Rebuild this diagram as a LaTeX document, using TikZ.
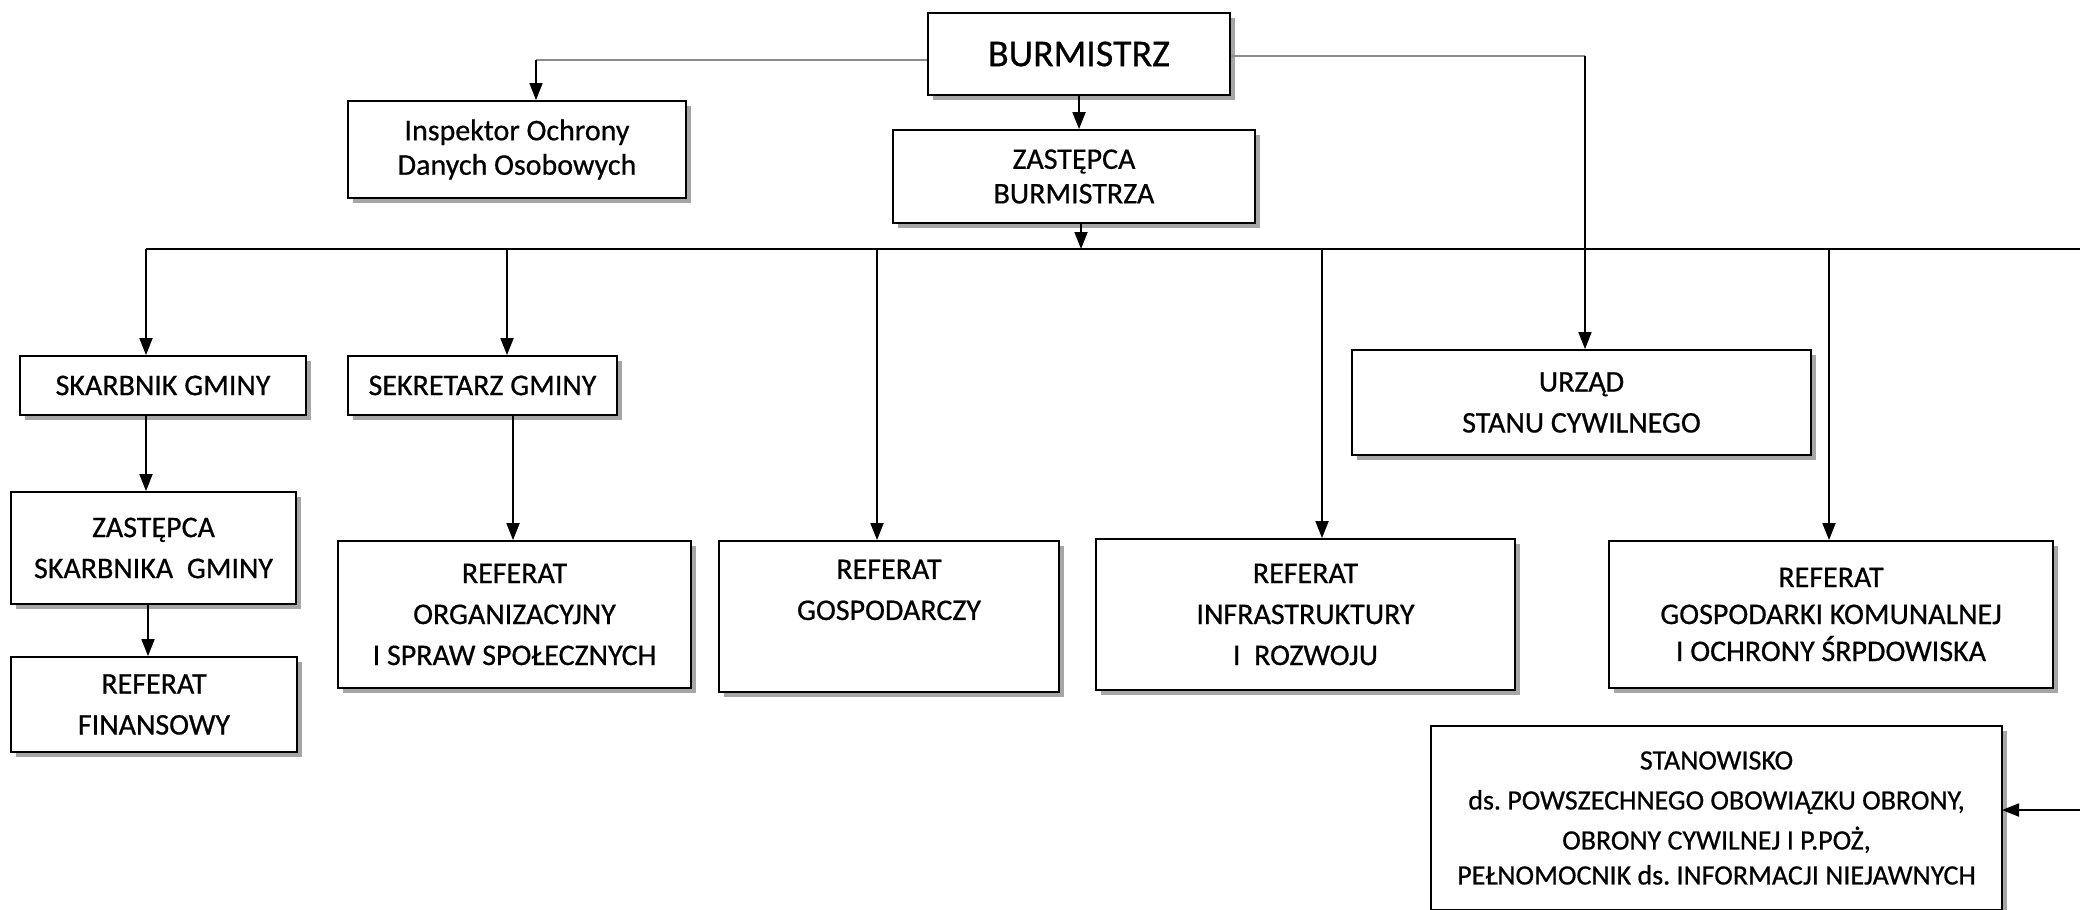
\documentclass[tikz,border=0pt]{standalone}
\usepackage{fontspec}
\setmainfont{Carlito}[FakeBold=0.6]
\usetikzlibrary{arrows.meta,shadows}
\begin{document}
\frenchspacing
\begin{tikzpicture}[x=1pt,y=-1pt,
 box/.style={draw=black, line width=1.8pt, fill=white, inner sep=0pt, align=center,
   font=\fontsize{30}{41}\selectfont,
   drop shadow={shadow xshift=5pt, shadow yshift=-5pt, fill=black!35, opacity=1}},
 arr/.style={line width=1.8pt, -{Triangle[length=17pt,width=13pt]}},
 conn/.style={line width=1.8pt},
 graylink/.style={line width=1.4pt, draw=black!45}]
\useasboundingbox (0,0) rectangle (2080,910);
\clip (0,0) rectangle (2080,910);

% boxes
\node[box, minimum width=302pt, minimum height=82pt, font=\fontsize{38}{44}\selectfont] (burm) at (1079,54) {BURMISTRZ};
\node[box, minimum width=338pt, minimum height=97pt, font=\fontsize{30}{34.5}\selectfont] (insp) at (517,149.5) {Inspektor Ochrony\\Danych Osobowych};
\node[box, minimum width=362pt, minimum height=93pt, font=\fontsize{30}{34.5}\selectfont] (zast) at (1074,176.5) {ZASTĘPCA\\BURMISTRZA};
\node[box, minimum width=286pt, minimum height=59pt] (skarb) at (163,385.5) {SKARBNIK GMINY};
\node[box, minimum width=269pt, minimum height=59pt] (sekr) at (482.5,385.5) {SEKRETARZ GMINY};
\node[box, minimum width=285pt, minimum height=112pt] (zastsk) at (153.5,548) {ZASTĘPCA\\SKARBNIKA~ GMINY};
\node[box, minimum width=286pt, minimum height=95pt] (fin) at (154,704.5) {REFERAT\\FINANSOWY};
\node[box, minimum width=353pt, minimum height=147pt] (org) at (514.5,614.5) {REFERAT\\ORGANIZACYJNY\\I SPRAW SPOŁECZNYCH};
\node[box, minimum width=340pt, minimum height=151pt] (gosp) at (889,616.5) {REFERAT\\GOSPODARCZY\\\strut};
\node[box, minimum width=419pt, minimum height=151pt] (infra) at (1305.5,614.5) {REFERAT\\INFRASTRUKTURY\\I~ ROZWOJU};
\node[box, minimum width=459pt, minimum height=105pt] (usc) at (1581.5,402.5) {URZĄD\\STANU CYWILNEGO};
\node[box, minimum width=444pt, minimum height=147pt, font=\fontsize{30}{37}\selectfont] (gk) at (1831,614.5) {REFERAT\\GOSPODARKI KOMUNALNEJ\\I OCHRONY ŚRPDOWISKA};
\node[box, minimum width=571pt, minimum height=184pt, font=\fontsize{28}{40}\selectfont] (stan) at (1716.5,818) {STANOWISKO\\ds. POWSZECHNEGO OBOWIĄZKU OBRONY,\\OBRONY CYWILNEJ I P.POŻ,\\[-5pt]PEŁNOMOCNIK ds. INFORMACJI NIEJAWNYCH};

% main horizontal line
\coordinate (L0) at (146,249);
\coordinate (R0) at (2086,249);
\draw[conn] (L0) -- (R0);
\coordinate (d2) at (507,249);
\coordinate (d3) at (877,249);
\coordinate (d4) at (1322,249);
\coordinate (d5) at (1829,249);
\draw[arr] (L0) -- (L0 |- skarb.north);
\draw[arr] (d2) -- (d2 |- sekr.north);
\draw[arr] (d3) -- (d3 |- gosp.north);
\draw[arr] (d4) -- (d4 |- infra.north);
\draw[arr] (d5) -- (d5 |- gk.north);
\coordinate (sa) at (2002,810);
\draw[arr] (R0) |- (sa);

% from BURMISTRZ
\coordinate (ib) at (536,60);
\draw[graylink] ([yshift=-6pt]burm.west) -- (ib);
\draw[line width=1.4pt, -{Triangle[length=17pt,width=13pt]}] (ib) -- (ib |- insp.north);
\coordinate (ub) at (1585,56);
\draw[graylink] ([yshift=-2pt]burm.east) -- (ub);
\draw[line width=1.6pt, -{Triangle[length=17pt,width=13pt]}] (ub) -- (ub |- usc.north);
\draw[arr] (burm.south) -- (burm.south |- zast.north);
\draw[arr] ([xshift=7pt]zast.south) -- ([xshift=7pt]zast.south |- L0);

% lower chains
\draw[arr] (L0 |- skarb.south) -- (L0 |- zastsk.north);
\coordinate (fx) at (148,0);
\draw[arr] (fx |- zastsk.south) -- (fx |- fin.north);
\coordinate (ox) at (513,0);
\draw[arr] (ox |- sekr.south) -- (ox |- org.north);
\end{tikzpicture}
\end{document}
